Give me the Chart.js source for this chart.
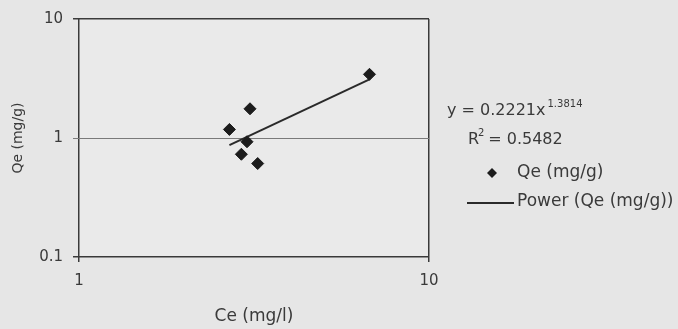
<!DOCTYPE html>
<html>
<head>
<meta charset="utf-8">
<script src="https://cdn.jsdelivr.net/npm/chart.js@4"></script>
<style>
  html, body { margin: 0; padding: 0; background: #e6e6e6; }
  #wrap { width: 678px; height: 329px; }
</style>
</head>
<body>
<div id="wrap"><canvas id="isoChart" width="678" height="329"></canvas></div>
<script>
// values
const ceValues = [2.69, 3.08, 3.02, 2.91, 3.24, 6.76];
const qeValues = [1.18, 1.76, 0.93, 0.73, 0.61, 3.43];
const trendCe = [2.69, 6.76];
const trendQe = [0.87, 3.11];
const xTicks = [1, 10];
const yTicks = [0.1, 1, 10];
const equationText = 'y = 0.2221x';
const exponentText = '1.3814';
const r2Value = '0.5482';

const textColor = '#3a3a3a';
const font = "'DejaVu Sans', Verdana, sans-serif";

const scatterPoints = ceValues.map((x, i) => ({ x: x, y: qeValues[i] }));
const trendPoints = trendCe.map((x, i) => ({ x: x, y: trendQe[i] }));

// plot area background + legend / equation text
const sidePlugin = {
    id: 'sidePlugin',
    beforeDraw(chart) {
        const a = chart.chartArea;
        const ctx = chart.ctx;
        ctx.save();
        ctx.fillStyle = '#eaeaea';
        ctx.fillRect(a.left, a.top, a.right - a.left, a.bottom - a.top);
        ctx.restore();
    },
    afterDraw(chart) {
        const ctx = chart.ctx;
        ctx.save();
        ctx.fillStyle = textColor;
        ctx.textBaseline = 'middle';
        ctx.textAlign = 'left';

        // equation
        ctx.font = '16px ' + font;
        ctx.fillText(equationText, 447, 111);
        const w = ctx.measureText(equationText).width;
        ctx.font = '10px ' + font;
        ctx.fillText(exponentText, 447 + w + 2, 104);

        // R squared
        ctx.font = '16px ' + font;
        ctx.fillText('R', 468, 140);
        const rw = ctx.measureText('R').width;
        ctx.font = '10px ' + font;
        ctx.fillText('2', 468 + rw - 1, 133);
        ctx.font = '16px ' + font;
        ctx.fillText(' = ' + r2Value, 468 + rw + 4, 140);

        // legend: scatter
        ctx.fillStyle = '#1c1c1c';
        ctx.beginPath();
        ctx.moveTo(492, 168);
        ctx.lineTo(497, 173);
        ctx.lineTo(492, 178);
        ctx.lineTo(487, 173);
        ctx.closePath();
        ctx.fill();
        ctx.fillStyle = textColor;
        ctx.font = '17px ' + font;
        ctx.fillText(chart.data.datasets[0].label, 517, 173);

        // legend: trend line
        ctx.strokeStyle = '#2a2a2a';
        ctx.lineWidth = 2;
        ctx.beginPath();
        ctx.moveTo(467, 203);
        ctx.lineTo(514, 203);
        ctx.stroke();
        ctx.fillText(chart.data.datasets[1].label, 517, 202);
        ctx.restore();
    }
};

new Chart(document.getElementById('isoChart'), {
    type: 'scatter',
    data: {
        datasets: [
            {
                label: 'Qe (mg/g)',
                data: scatterPoints,
                pointStyle: 'rectRot',
                pointRadius: 6,
                backgroundColor: '#1c1c1c',
                borderColor: '#1c1c1c',
                order: 1
            },
            {
                label: 'Power (Qe (mg/g))',
                data: trendPoints,
                showLine: true,
                pointRadius: 0,
                borderColor: '#2a2a2a',
                borderWidth: 2,
                order: 2
            }
        ]
    },
    options: {
        responsive: false,
        animation: false,
        layout: { padding: { left: 0, right: 249, top: 14, bottom: 0 } },
        plugins: {
            legend: { display: false },
            tooltip: { enabled: false }
        },
        scales: {
            x: {
                type: 'logarithmic',
                min: 1,
                max: 10,
                afterBuildTicks: scale => { scale.ticks = xTicks.map(v => ({ value: v })); },
                afterFit: scale => { scale.height = 72; },
                border: { display: false },
                grid: {
                    color: '#3a3a3a',
                    lineWidth: 1.5,
                    tickLength: 5
                },
                ticks: {
                    color: textColor,
                    font: { family: font, size: 15 },
                    padding: 10,
                    maxRotation: 0,
                    callback: v => String(v)
                },
                title: {
                    display: true,
                    text: 'Ce (mg/l)',
                    color: textColor,
                    font: { family: font, size: 17 },
                    padding: { top: 0, bottom: 2 }
                }
            },
            y: {
                type: 'logarithmic',
                min: 0.1,
                max: 10,
                afterBuildTicks: scale => { scale.ticks = yTicks.map(v => ({ value: v })); },
                afterFit: scale => { scale.width = 79; },
                border: { display: false },
                grid: {
                    color: ctx => (ctx.tick && ctx.tick.value === 1) ? '#7a7a7a' : '#3a3a3a',
                    lineWidth: ctx => (ctx.tick && ctx.tick.value === 1) ? 1 : 1.5,
                    tickLength: 6
                },
                ticks: {
                    color: textColor,
                    font: { family: font, size: 15 },
                    padding: 10,
                    callback: v => String(v)
                },
                title: {
                    display: true,
                    text: 'Qe (mg/g)',
                    color: textColor,
                    font: { family: font, size: 14 },
                    padding: { top: 10, bottom: 0 }
                }
            }
        }
    },
    plugins: [sidePlugin]
});
</script>
</body>
</html>
